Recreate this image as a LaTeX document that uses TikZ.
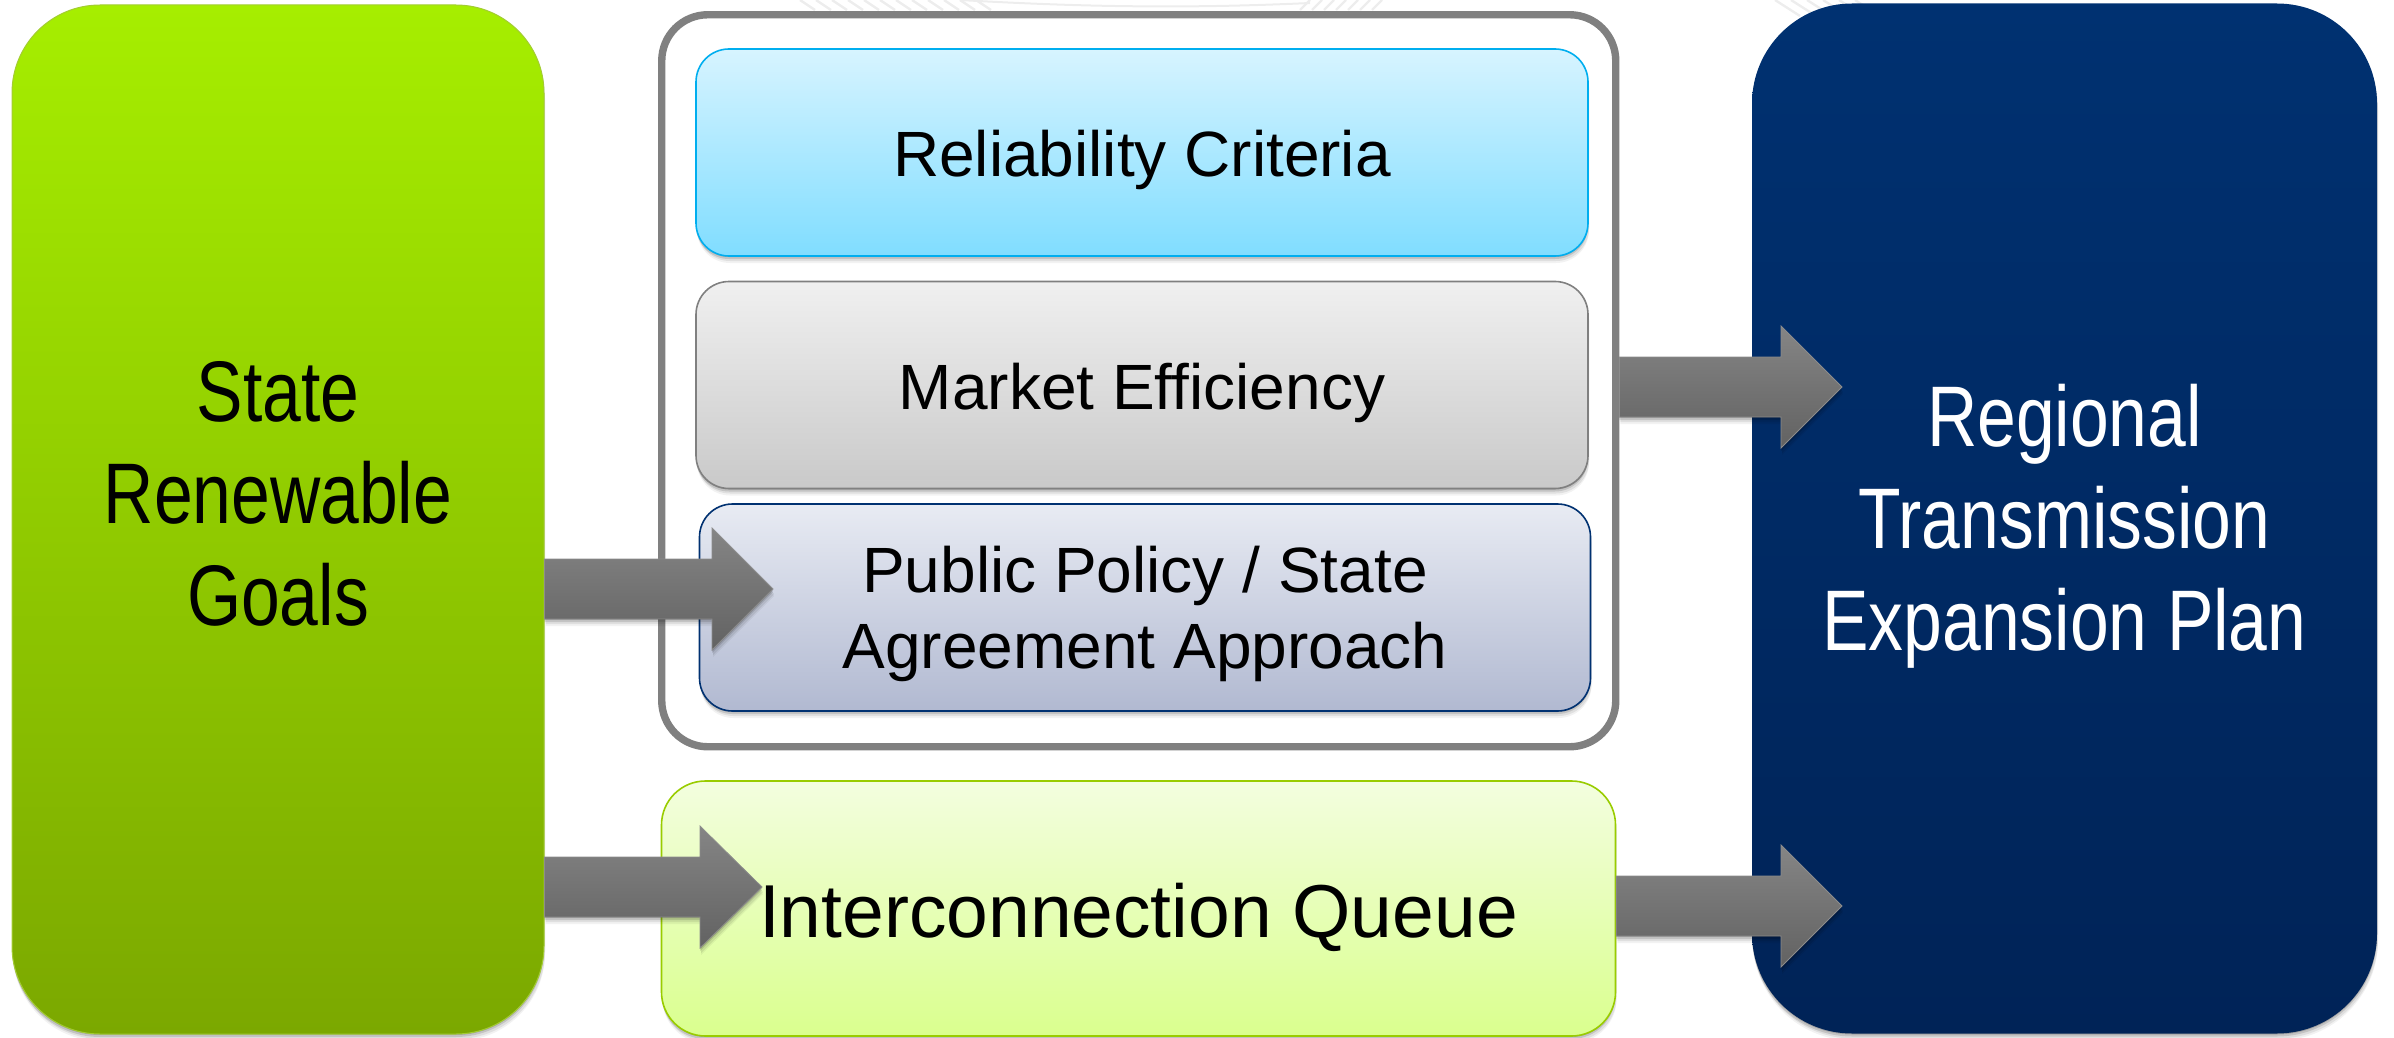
\documentclass[tikz,border=0pt]{standalone}
\usepackage{fontspec}
\setmainfont{Liberation Sans}
\newfontfamily\tallfont[FakeStretch=0.81]{Liberation Sans}
\usetikzlibrary{shadows,calc}
\definecolor{arrowtop}{HTML}{858585}
\definecolor{arrowbot}{HTML}{626262}
\definecolor{arrowedge}{HTML}{8C8C8C}
\definecolor{framegray}{HTML}{808080}
\definecolor{HGtop}{HTML}{A6EE00}
\definecolor{HGbot}{HTML}{7BA800}
\definecolor{HGedge}{HTML}{A3CC33}
\definecolor{NVtop}{HTML}{003171}
\definecolor{NVbot}{HTML}{002357}
\definecolor{BLtop}{HTML}{D7F4FF}
\definecolor{BLbot}{HTML}{80DDFF}
\definecolor{BLedge}{HTML}{00AEEF}
\definecolor{GYtop}{HTML}{F0F0F0}
\definecolor{GYbot}{HTML}{C9C9C9}
\definecolor{GYedge}{HTML}{808080}
\definecolor{PPtop}{HTML}{E8EBF3}
\definecolor{PPbot}{HTML}{B1B9D1}
\definecolor{PPedge}{HTML}{003171}
\definecolor{LGtop}{HTML}{F3FEDF}
\definecolor{LGbot}{HTML}{DAFF8E}
\definecolor{LGedge}{HTML}{99CC00}
\definecolor{wmark}{HTML}{EDEDED}
\tikzset{
  x=0.5pt,y=-0.5pt,
  softshadow/.style={
    drop shadow={shadow xshift=0pt,shadow yshift=-0.5pt,opacity=.16,fill=black},
    drop shadow={shadow xshift=0pt,shadow yshift=-1.5pt,opacity=.12,fill=black},
    drop shadow={shadow xshift=0.5pt,shadow yshift=-2.5pt,opacity=.08,fill=black},
    drop shadow={shadow xshift=0.5pt,shadow yshift=-3.5pt,opacity=.05,fill=black}},
  tallbox/.style={rectangle,rounded corners=44pt,inner sep=0pt,align=center,softshadow,font=\tallfont\fontsize{43}{51}\selectfont},
  rowbox/.style={rectangle,rounded corners=16.5pt,inner sep=0pt,align=center,line width=0.8pt,softshadow,
    minimum width=446pt,minimum height=103.5pt,font=\fontsize{32}{38}\selectfont},
  flowarrow/.style={top color=arrowtop,bottom color=arrowbot,draw=arrowedge,line width=0.4pt,softshadow},
}
\newcommand{\nudge}[2]{\raisebox{#1}[\height][\depth]{#2}}
\newcommand{\flowarrowpath}[4]{% source node, tip coordinate, head base x offset from tip, half head height
  \path[flowarrow] ($(#1.east |- #2)+(0,-30)$) -- ($(#2)+(-#3,-30)$) -- ($(#2)+(-#3,-#4)$) -- (#2)
    -- ($(#2)+(-#3,#4)$) -- ($(#2)+(-#3,30)$) -- ($(#1.east |- #2)+(0,30)$) -- cycle;
}
\begin{document}
\begin{tikzpicture}
\useasboundingbox (0,0) rectangle (2394,1038);
% faint watermark at the top edge
\foreach \i in {0,...,11} \draw[wmark,line width=1.2pt] (800+\i*16,0) -- (815+\i*16,10);
\draw[wmark,line width=1pt] (960,0) .. controls (1100,8) and (1200,8) .. (1310,3);
\foreach \i in {0,...,6} \draw[wmark,line width=1.2pt] (1300+\i*12,10) -- (1310+\i*12,0);
\foreach \i in {0,...,5} \draw[wmark,line width=1.2pt] (1775+\i*16,0) -- (1800+\i*16,16);
% source and target columns
\node[tallbox,minimum width=266pt,minimum height=514.5pt,top color=HGtop,bottom color=HGbot,draw=HGedge,line width=0.5pt] (goals) at (278,519.5) {\nudge{13pt}{State}\\\nudge{13pt}{Renewable}\\\nudge{13pt}{Goals}};
\node[tallbox,minimum width=312.5pt,minimum height=515pt,top color=NVtop,bottom color=NVbot,text=white,rounded corners=50pt] (plan) at (2064.5,518.5) {\nudge{-3.8pt}{Regional}\\\nudge{-3.8pt}{Transmission}\\\nudge{-3.8pt}{Expansion Plan}};
% frame
\node[rectangle,rounded corners=23pt,draw=framegray,line width=3.7pt,minimum width=477pt,minimum height=366pt,inner sep=0pt,fill=white] (frame) at (1138.75,380.75) {};
% rows
\node[rowbox,top color=BLtop,bottom color=BLbot,draw=BLedge] (reliability) at (1142,152.5) {\nudge{-3.8pt}{Reliability Criteria}};
\node[rowbox,top color=GYtop,bottom color=GYbot,draw=GYedge] (market) at (1142,385) {\nudge{-3.8pt}{Market Efficiency}};
\node[rowbox,top color=PPtop,bottom color=PPbot,draw=PPedge,minimum width=445.5pt] (policy) at (1145,607.5) {\nudge{-3.4pt}{Public Policy / State}\\\nudge{-3.4pt}{Agreement Approach}};
\node[rowbox,minimum width=477pt,minimum height=127.5pt,rounded corners=22pt,font=\fontsize{37.5}{42}\selectfont,top color=LGtop,bottom color=LGbot,draw=LGedge] (queue) at (1138.5,908.5) {\nudge{-4.5pt}{Interconnection Queue}};
% arrows
\coordinate (tipa) at (773,589);
\coordinate (tipb) at (762,887);
\coordinate (tipc) at (1842,387);
\coordinate (tipd) at (1842,906);
\flowarrowpath{goals}{tipa}{61}{61}
\flowarrowpath{goals}{tipb}{62}{61}
\flowarrowpath{frame}{tipc}{61}{61}
\flowarrowpath{queue}{tipd}{61}{61}
\end{tikzpicture}
\end{document}
